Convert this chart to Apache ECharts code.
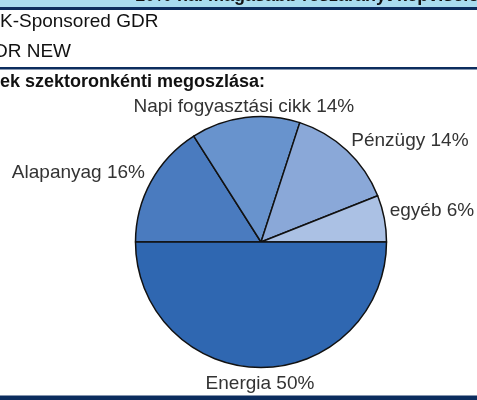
<!DOCTYPE html>
<html>
<head>
<meta charset="utf-8">
<script src="https://cdn.jsdelivr.net/npm/echarts@6/dist/echarts.min.js"></script>
<style>
  html, body { margin: 0; padding: 0; background: #fff; }
  #chart { width: 477px; height: 400px; }
</style>
</head>
<body>
<div id="chart"></div>
<script>
// szektor megoszlás (óramutató járásával, balról kezdve)
const sectors = ['Alapanyag', 'Napi fogyasztási cikk', 'Pénzügy', 'egyéb', 'Energia'];
const shares = [16, 14, 14, 6, 50];
const sliceColors = ['#4a7bbf', '#6893cd', '#8aa8d8', '#abc1e4', '#2f67b1'];

const headerLines = ['K-Sponsored GDR', 'DR NEW'];
const chartTitle = 'ek szektoronkénti megoszlása:';
const bannerText = '10%-nál magasabb részarányt képviselő szek';

const pieCenter = [261, 242];
const pieRadius = 125.5;
const startAngle = 180;
const labelSize = 19;

const chart = echarts.init(document.getElementById('chart'));

// cimkek helye: a szelet kozepso szogenel, a kor szelen kivul (Excel-szeru)
const total = shares.reduce((a, b) => a + b, 0);
const midAngles = [];
let acc = 0;
shares.forEach(v => {
    midAngles.push((startAngle - (acc + v / 2) / total * 360) * Math.PI / 180);
    acc += v;
});

function placeLabel(params) {
    const a = midAngles[params.dataIndex];
    const r = pieRadius + 3.5;
    const c = Math.cos(a), s = Math.sin(a);
    const align = c > 0.3 ? 'left' : (c < -0.3 ? 'right' : 'center');
    const x = pieCenter[0] + r * c + (align === 'left' ? 2 : (align === 'right' ? -3 : -1));
    const y = pieCenter[1] - r * s + (s >= 0 ? 2.5 : 3.5);
    return { x: x, y: y, align: align, verticalAlign: s >= 0 ? 'bottom' : 'top' };
}

const option = {
    animation: false,
    graphic: [
        { type: 'rect', shape: { x: 0, y: 0, width: 477, height: 8 }, style: { fill: '#a9dcef' } },
        { type: 'text', x: 135, y: 5, style: { text: bannerText, fontFamily: 'Liberation Sans', fontWeight: 'bold', fontSize: 18, fill: '#111', textVerticalAlign: 'bottom' } },
        { type: 'rect', shape: { x: 0, y: 7, width: 477, height: 3 }, style: { fill: '#0c2d5e' } },
        { type: 'text', x: 0, y: 22, style: { text: headerLines[0], fontFamily: 'Liberation Sans', fontSize: 19, fill: '#111', textVerticalAlign: 'middle' } },
        { type: 'text', x: -6, y: 52, style: { text: headerLines[1], fontFamily: 'Liberation Sans', fontSize: 19, fill: '#111', textVerticalAlign: 'middle' } },
        { type: 'rect', shape: { x: 0, y: 67, width: 477, height: 2.5 }, style: { fill: '#0c2d5e' } },
        { type: 'text', x: 0, y: 82, style: { text: chartTitle, fontFamily: 'Liberation Sans', fontWeight: 'bold', fontSize: 18, fill: '#111', textVerticalAlign: 'middle' } }
    ],
    series: [
        {
            type: 'pie',
            center: pieCenter,
            radius: pieRadius,
            startAngle: startAngle,
            clockwise: true,
            avoidLabelOverlap: false,
            data: sectors.map((name, i) => ({
                name: name,
                value: shares[i],
                itemStyle: { color: sliceColors[i] }
            })),
            itemStyle: { borderColor: '#111', borderWidth: 1.5 },
            label: {
                show: true,
                position: 'outside',
                formatter: '{b} {c}%',
                fontFamily: 'Liberation Sans',
                fontSize: labelSize,
                color: '#333'
            },
            labelLine: { show: false },
            labelLayout: placeLabel,
            emphasis: { disabled: true }
        }
    ]
};

chart.setOption(option);

// also keretvonal a cimkek folott, hogy a "g" also szara eltunjon
chart.setOption({
    graphic: option.graphic.concat([
        { type: 'rect', z: 100, shape: { x: 0, y: 395.5, width: 477, height: 5 }, style: { fill: '#0c2d5e' } }
    ])
});
</script>
</body>
</html>
